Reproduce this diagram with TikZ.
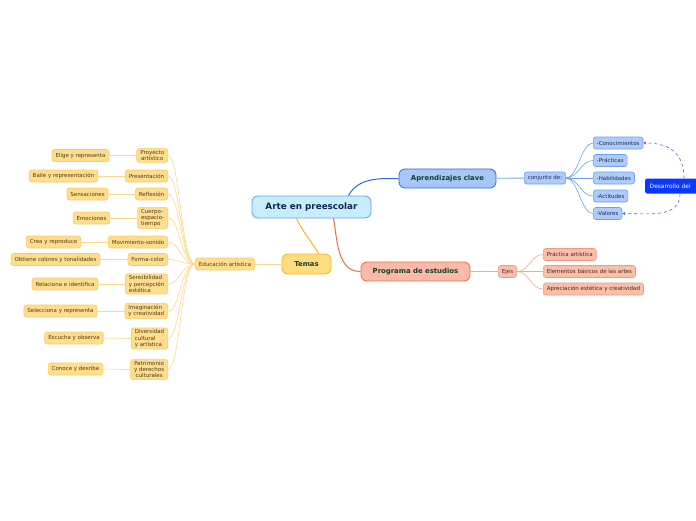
\documentclass[tikz,border=0pt]{standalone}
\usepackage{fontspec}
\setmainfont{DejaVu Sans}
\usetikzlibrary{arrows.meta}

\definecolor{rootfill}{HTML}{C9ECFB}
\definecolor{rootline}{HTML}{55A9DC}
\definecolor{roottext}{HTML}{0F2752}
\definecolor{aprfill}{HTML}{A7C7F8}
\definecolor{aprline}{HTML}{2D6AD8}
\definecolor{temfill}{HTML}{FFDC82}
\definecolor{temline}{HTML}{F5B71A}
\definecolor{progfill}{HTML}{F9BBA7}
\definecolor{progline}{HTML}{EF6A47}
\definecolor{headtext}{HTML}{173D2A}
\definecolor{yelfill}{HTML}{FFDD8E}
\definecolor{yelline}{HTML}{FBCB63}
\definecolor{yeltext}{HTML}{4B3B16}
\definecolor{bluefill}{HTML}{AECBFA}
\definecolor{blueline}{HTML}{6F9FEE}
\definecolor{bluetext}{HTML}{1E2C50}
\definecolor{salfill}{HTML}{F9BFAA}
\definecolor{salline}{HTML}{F19A80}
\definecolor{saltext}{HTML}{4B2519}
\definecolor{desfill}{HTML}{0A37FF}

\begin{document}
\begin{tikzpicture}[x=1pt, y=-1pt,
		every node/.style={rounded corners=2.5pt, font=\fontsize{5.5}{6.2}\selectfont, inner xsep=3.5pt, inner ysep=1.8pt, minimum height=12pt},
		mainbox/.style={rounded corners=6pt, line width=0.8pt, text=headtext, font=\bfseries\fontsize{6.9}{8}\selectfont, minimum height=19pt},
		yelbox/.style={draw=yelline, fill=yelfill, text=yeltext, line width=0.6pt},
		bluebox/.style={draw=blueline, fill=bluefill, text=bluetext, line width=0.6pt},
		salbox/.style={draw=salline, fill=salfill, text=saltext, line width=0.6pt},
		yeledge/.style={draw=yelline!75, line width=0.6pt},
		blueedge/.style={draw=blueline, line width=0.6pt},
		saledge/.style={draw=salline!85, line width=0.6pt},
		>={Stealth[length=3pt, width=3pt]}
	]
		\useasboundingbox (0,0) rectangle (696,520);
		\clip (0,0) rectangle (696,520);
		
		% main topics
		\node[mainbox, draw=rootline, fill=rootfill, text=roottext, minimum width=119pt, minimum height=22pt, font=\bfseries\fontsize{8.8}{10}\selectfont] (root) at (311.5,207) {Arte en preescolar};
		\node[mainbox, draw=aprline, fill=aprfill, minimum width=97pt] (apr) at (447.5,178.5) {Aprendizajes clave};
		\node[mainbox, draw=temline, fill=temfill, minimum width=49pt, minimum height=20pt] (temas) at (306.5,264) {Temas};
		\node[mainbox, draw=progline, fill=progfill, minimum width=109pt] (prog) at (415.5,271.5) {Programa de estudios};
		
		\draw[aprline, line width=1pt] ([xshift=-23pt]root.north east) to[out=60, in=180] (apr.west);
		\draw[temline, line width=1pt] ([xshift=-15pt]root.south) to[out=-65, in=120] ([xshift=12pt]temas.north);
		\draw[progline, line width=1pt] ([xshift=22pt]root.south) to[out=-80, in=180] (prog.west);
		
		% Aprendizajes clave
		\node[bluebox] (conj) at (545,178) {conjunto de:};
		\node[bluebox, anchor=west] (c1) at (593,143) {-Conocimientos};
		\node[bluebox, anchor=west] (c2) at (593,160.5) {-Prácticas};
		\node[bluebox, anchor=west] (c3) at (593,178) {-Habilidades};
		\node[bluebox, anchor=west] (c4) at (593,196) {-Actitudes};
		\node[bluebox, anchor=west] (c5) at (593,213.5) {-Valores};
		\node[fill=desfill, text=white, rounded corners=2pt, anchor=west, text width=50pt, align=left, inner sep=4.5pt, minimum height=15pt, font=\fontsize{5.9}{7}\selectfont] (desa) at (645,186) {Desarrollo del};
		
		\draw[aprfill, line width=1.5pt] (apr.east) -- (conj.west);
		\draw[blueedge] (conj.east) .. controls +(12,0) and +(-12,0) .. (c1.west);
		\draw[blueedge] (conj.east) .. controls +(12,0) and +(-12,0) .. (c2.west);
		\draw[blueedge] (conj.east) -- (c3.west);
		\draw[blueedge] (conj.east) .. controls +(12,0) and +(-12,0) .. (c4.west);
		\draw[blueedge] (conj.east) .. controls +(12,0) and +(-12,0) .. (c5.west);
		
		% dashed links to Desarrollo del
		\draw[->, dashed, desfill!80, line width=0.6pt] ([xshift=39pt]desa.north west) .. controls +(0,-30) and +(20,0) .. (c1.east);
		\draw[->, dashed, desfill!80, line width=0.6pt] ([xshift=35pt]desa.south west) .. controls +(0,25) and +(25,0) .. (c5.east);
		
		% Programa de estudios
		\node[salbox] (ejes) at (507.5,271.5) {Ejes};
		\node[salbox, anchor=west] (e1) at (543,254.5) {Práctica artística};
		\node[salbox, anchor=west] (e2) at (543,271.5) {Elementos básicos de las artes};
		\node[salbox, anchor=west] (e3) at (543,289) {Apreciación estética y creatividad};
		
		\draw[saledge] (prog.east) -- (ejes.west);
		\draw[saledge] (ejes.east) .. controls +(12,0) and +(-12,0) .. (e1.west);
		\draw[saledge] (ejes.east) -- (e2.west);
		\draw[saledge] (ejes.east) .. controls +(12,0) and +(-12,0) .. (e3.west);
		
		% Temas
		\node[yelbox] (edu) at (225,264) {Educación artística};
		\draw[yeledge] (temas.west) -- (edu.east);
		
		\node[yelbox, anchor=east, align=center] (t1) at (168,155.5) {Proyecto\\artístico};
		\node[yelbox, anchor=east] (t2) at (168,176) {Presentación};
		\node[yelbox, anchor=east] (t3) at (168,194) {Reflexión};
		\node[yelbox, anchor=east, align=left] (t4) at (168,218) {Cuerpo-\\espacio-\\tiempo};
		\node[yelbox, anchor=east] (t5) at (168,242) {Movimiento-sonido};
		\node[yelbox, anchor=east] (t6) at (168,259.5) {Forma-color};
		\node[yelbox, anchor=east, align=left] (t7) at (168,284) {Sensibilidad\\y percepción\\estética};
		\node[yelbox, anchor=east, align=left] (t8) at (168,311) {Imaginación\\y creatividad};
		\node[yelbox, anchor=east, align=left] (t9) at (168,338.5) {Diversidad\\cultural\\y artística};
		\node[yelbox, anchor=east, align=center] (t10) at (168,369.5) {Patrimonio\\y derechos\\culturales};
		
		\node[yelbox] (s1) at (80.5,155.5) {Elige y representa};
		\node[yelbox] (s2) at (63.5,176) {Baile y representación};
		\node[yelbox] (s3) at (87.5,194) {Sensaciones};
		\node[yelbox] (s4) at (91.5,218) {Emociones};
		\node[yelbox] (s5) at (53.5,242) {Crea y reproduce};
		\node[yelbox] (s6) at (55.5,259.5) {Obtiene colores y tonalidades};
		\node[yelbox] (s7) at (65,284) {Relaciona e identifica};
		\node[yelbox] (s8) at (60.5,311) {Selecciona y representa};
		\node[yelbox] (s9) at (74,338) {Escucha y observa};
		\node[yelbox] (s10) at (75.5,369) {Conoce y desribe};
		
		% fan from Educación artística
		\draw[yeledge] (edu.west) .. controls +(-14,0) and +(12,0) .. (t1.east);
		\draw[yeledge] (edu.west) .. controls +(-14,0) and +(12,0) .. (t2.east);
		\draw[yeledge] (edu.west) .. controls +(-14,0) and +(12,0) .. (t3.east);
		\draw[yeledge] (edu.west) .. controls +(-14,0) and +(12,0) .. (t4.east);
		\draw[yeledge] (edu.west) .. controls +(-14,0) and +(12,0) .. (t5.east);
		\draw[yeledge] (edu.west) .. controls +(-14,0) and +(12,0) .. (t6.east);
		\draw[yeledge] (edu.west) .. controls +(-14,0) and +(12,0) .. (t7.east);
		\draw[yeledge] (edu.west) .. controls +(-14,0) and +(12,0) .. (t8.east);
		\draw[yeledge] (edu.west) .. controls +(-14,0) and +(12,0) .. (t9.east);
		\draw[yeledge] (edu.west) .. controls +(-14,0) and +(12,0) .. (t10.east);
		
		\draw[yeledge] (s1.east) -- (t1.west);
		\draw[yeledge] (s2.east) -- (t2.west);
		\draw[yeledge] (s3.east) -- (t3.west);
		\draw[yeledge] (s4.east) -- (t4.west);
		\draw[yeledge] (s5.east) -- (t5.west);
		\draw[yeledge] (s6.east) -- (t6.west);
		\draw[yeledge] (s7.east) -- (t7.west);
		\draw[yeledge] (s8.east) -- (t8.west);
		\draw[yeledge] (s9.east) -- (t9.west);
		\draw[yeledge] (s10.east) -- (t10.west);
	\end{tikzpicture}
\end{document}
